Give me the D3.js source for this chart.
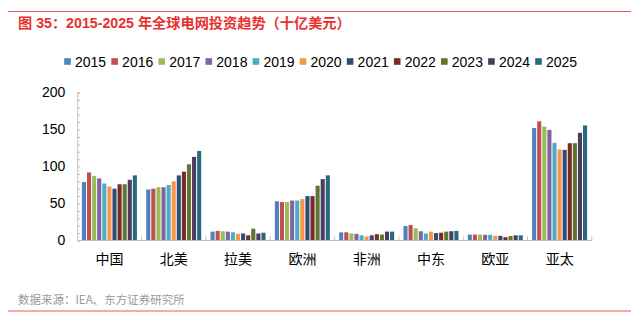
<!DOCTYPE html>
<html lang="zh">
<head>
<meta charset="utf-8">
<title>2015-2025 年全球电网投资趋势</title>
<script src="https://d3js.org/d3.v7.min.js"></script>
<style>
  body { margin: 0; background: #fff; }
  text { font-family: "Liberation Sans", Arial, "Noto Sans CJK SC", sans-serif; }
  .cjk { font-family: "Noto Sans CJK SC", sans-serif; }
</style>
</head>
<body>
<script>
// regions and years
var regions = ["中国", "北美", "拉美", "欧洲", "非洲", "中东", "欧亚", "亚太"];
var years = ["2015", "2016", "2017", "2018", "2019", "2020", "2021", "2022", "2023", "2024", "2025"];
var colors = ["#4F81BD", "#C0504D", "#9BBB59", "#8064A2", "#4BACC6", "#F79646",
              "#2C4D75", "#772C2A", "#5F7530", "#4D3B62", "#276A7C"];

// investment per region, one value per year (billion USD)
var china    = [79, 92, 87, 84, 77, 73, 70, 76, 76, 82, 88];
var northAm  = [69, 70, 72, 72, 75, 80, 88, 93, 103, 113, 121];
var latinAm  = [12, 13, 12.5, 12, 11, 9, 9.5, 7, 16, 9.5, 10.5];
var europe   = [53, 52, 52, 54, 54, 56, 60, 60, 74, 83, 88];
var africa   = [11, 11, 9.5, 9, 7, 5.5, 7, 8.5, 8, 12, 12];
var midEast  = [19.5, 21, 16.5, 12.5, 9.5, 12, 10, 10.5, 12, 12.5, 13];
var eurasia  = [8, 8, 8, 7.7, 7.7, 6.3, 6.3, 4.5, 6, 7, 7];
var asiaPac  = [152, 161, 154, 149.5, 132, 123, 122.5, 131.5, 131.5, 145.5, 155.5];

var yTicks = [0, 50, 100, 150, 200];

var table = [china, northAm, latinAm, europe, africa, midEast, eurasia, asiaPac]
  .map(function(vals, i) { return { region: regions[i], values: vals }; });

var w = 631, h = 327;
var svg = d3.select("body").append("svg")
  .attr("width", w).attr("height", h);

svg.append("rect").attr("width", w).attr("height", h).attr("fill", "#fff");

// red rules top and bottom
svg.append("line").attr("x1", 8).attr("x2", w).attr("y1", 11.5).attr("y2", 11.5)
  .attr("stroke", "#E8585A").attr("stroke-width", 1.2);
svg.append("line").attr("x1", 8).attr("x2", w).attr("y1", 311).attr("y2", 311)
  .attr("stroke", "#E8585A").attr("stroke-width", 1.2);

// title
svg.append("text")
  .attr("x", 18).attr("y", 27.5)
  .attr("fill", "#E8312F").attr("font-size", 14.2).attr("font-weight", "bold")
  .text("图 35：2015-2025 年全球电网投资趋势（十亿美元）");

// source
svg.append("text").attr("class", "cjk")
  .attr("x", 18).attr("y", 304)
  .attr("fill", "#9A9A9A").attr("font-size", 11.5)
  .text("数据来源：IEA、东方证券研究所");

// scales
var x0 = d3.scaleBand().domain(regions).range([77.3, 591.8]);
var x1 = d3.scaleBand().domain(years).range([4.1, x0.bandwidth() - 4.2]);
var y = d3.scaleLinear().domain([0, 200]).range([240.5, 92.5]);

// bars
var groups = svg.append("g").selectAll("g")
  .data(table).enter().append("g")
  .attr("transform", function(d) { return "translate(" + x0(d.region) + ",0)"; });

groups.selectAll("rect")
  .data(function(d) { return d.values.map(function(v, i) { return { year: years[i], value: v, c: colors[i] }; }); })
  .enter().append("rect")
  .attr("x", function(d) { return x1(d.year) + 0.5; })
  .attr("width", x1.bandwidth() - 1)
  .attr("y", function(d) { return y(d.value); })
  .attr("height", function(d) { return y(0) - y(d.value); })
  .attr("fill", function(d) { return d.c; });

// y axis: minor ticks every 10, labels every 50
var axisColor = "#BFBFBF";
var yMinor = svg.append("g").attr("transform", "translate(77.3,0)")
  .call(d3.axisLeft(y).tickValues(d3.range(0, 201, 10)).tickSize(-3).tickFormat(""));
yMinor.select(".domain").attr("stroke", axisColor);
yMinor.selectAll(".tick line").attr("stroke", axisColor);

var yLabels = svg.append("g").attr("transform", "translate(77.3,0)")
  .call(d3.axisLeft(y).tickValues(yTicks).tickSize(0).tickPadding(12));
yLabels.select(".domain").remove();
yLabels.selectAll("text").attr("font-size", 14).attr("fill", "#000")
  .attr("font-family", "Liberation Sans, Arial, sans-serif");

// x axis with ticks on category boundaries
var xAxis = svg.append("g").attr("transform", "translate(0," + y(0) + ")");
xAxis.append("line").attr("x1", x0.range()[0]).attr("x2", x0.range()[1])
  .attr("stroke", axisColor);
xAxis.selectAll(".bound")
  .data(regions.map(function(r) { return x0(r) + x0.bandwidth(); }))
  .enter().append("line")
  .attr("x1", function(d) { return d; }).attr("x2", function(d) { return d; })
  .attr("y1", 0).attr("y2", -4)
  .attr("stroke", axisColor);
xAxis.selectAll(".lab")
  .data(regions).enter().append("text").attr("class", "cjk")
  .attr("x", function(d) { return x0(d) + x0.bandwidth() / 2; })
  .attr("y", 23).attr("text-anchor", "middle")
  .attr("font-size", 14).attr("fill", "#000")
  .text(function(d) { return d; });

// legend
var legend = svg.append("g").selectAll("g")
  .data(years).enter().append("g")
  .attr("transform", function(d, i) { return "translate(" + (64.2 + i * 47.1) + ",61.5)"; });
legend.append("rect").attr("x", 0).attr("y", -3.3).attr("width", 6.6).attr("height", 6.6)
  .attr("fill", function(d, i) { return colors[i]; });
legend.append("text").attr("x", 10.8).attr("y", 5)
  .attr("font-size", 14).attr("fill", "#000")
  .text(function(d) { return d; });
</script>
</body>
</html>
